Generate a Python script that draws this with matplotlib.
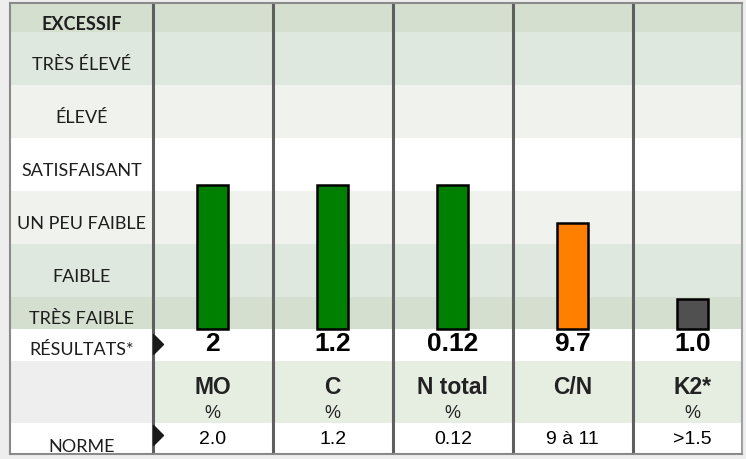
import matplotlib
matplotlib.use("Agg")
import matplotlib.pyplot as plt

# data
params = ['MO', 'C', 'N total', 'C/N', 'K2*']
units = ['%', '%', '%', '', '%']
results = ['2', '1.2', '0.12', '9.7', '1.0']
normes = ['2.0', '1.2', '0.12', '9 à 11', '>1.5']
levels = [2.72, 2.72, 2.72, 2.0, 0.57]   # bar height, in level bands
bar_colors = ['#008000', '#008000', '#008000', '#ff8000', '#505050']
level_labels = ['TRÈS FAIBLE', 'FAIBLE', 'UN PEU FAIBLE', 'SATISFAISANT',
                'ÉLEVÉ', 'TRÈS ÉLEVÉ', 'EXCESSIF']

# layout
band_edges = [0, 0.6, 1.6, 2.6, 3.6, 4.6, 5.6, 6.16]
band_colors = ['#d4dfcf', '#dfe8de', '#f0f3ed', '#ffffff', '#f0f3ed', '#dfe8de', '#d4dfcf']
label_y = [0.21, 1, 2, 3, 4, 5, 5.77]
y_min, y_max = -2.36, 6.15
x_min, x_max = -1.69, 4.41
lab_x = (x_min + -0.5) / 2

label_font = ['Lato', 'DejaVu Sans']
num_font = ['Liberation Sans', 'DejaVu Sans']
head_font = ['Liberation Sans Narrow', 'Liberation Sans', 'DejaVu Sans']

W, H = 746, 460
fig = plt.figure(figsize=(W / 100, H / 100), dpi=100)
fig.patch.set_facecolor('#efeeef')
ax = fig.add_axes([10 / W, 5 / H, 732 / W, 451 / H])
ax.set_xlim(x_min, x_max)
ax.set_ylim(y_min, y_max)

for lo, hi, c in zip(band_edges[:-1], band_edges[1:], band_colors):
    ax.axhspan(lo, hi, color=c, lw=0, zorder=0)
ax.axhspan(-0.6, 0, color='white', lw=0, zorder=0)
ax.axhspan(-1.77, -0.6, color='#e6eee2', lw=0, zorder=0)
ax.axhspan(y_min, -1.77, color='white', lw=0, zorder=0)
ax.fill_betweenx([-1.77, -0.6], x_min, -0.5, color='#efeeef', lw=0, zorder=0)

for xs in [-0.5, 0.5, 1.5, 2.5, 3.5]:
    ax.axvline(xs, color='#5f5f5f', lw=2.2, zorder=2)

x = range(len(params))
ax.bar(x, levels, width=0.26, color=bar_colors, edgecolor='black', lw=1.8, zorder=3)

for i, lab in enumerate(level_labels):
    ax.text(lab_x, label_y[i], lab, ha='center', va='center', fontsize=13,
            family=label_font, color='#1e1e1e',
            fontweight='bold' if lab == 'EXCESSIF' else 'normal')
ax.text(lab_x, -0.38, 'RÉSULTATS*', ha='center', va='center', fontsize=13,
        family=label_font, color='#1e1e1e')
ax.text(lab_x, -2.2, 'NORME', ha='center', va='center', fontsize=13,
        family=label_font, color='#1e1e1e')

for i in x:
    ax.text(i, -0.26, results[i], ha='center', va='center', fontsize=19,
            fontweight='bold', family=num_font, color='black')
    ax.text(i, -1.09, params[i], ha='center', va='center', fontsize=16.5,
            fontweight='bold', family=head_font, color='#222222')
    if units[i]:
        ax.text(i, -1.58, units[i], ha='center', va='center', fontsize=13,
                family=head_font, color='#222222')
    ax.text(i, -2.07, normes[i], ha='center', va='center', fontsize=14,
            family=num_font, color='black')

tri = [(0, -1), (0, 1), (1, 0), (0, -1)]
ax.plot([-0.5, -0.5], [-0.28, -2.01], ls='none', marker=tri, ms=14.4,
        color='#1a1a1a', zorder=5, clip_on=False)

ax.set_xticks([])
ax.set_yticks([])
for s in ax.spines.values():
    s.set_color('#8a8a8a')
    s.set_linewidth(1.5)
ax.spines['right'].set_color('#a0a0a0')

fig.savefig('out.png', dpi=100, facecolor=fig.get_facecolor())
